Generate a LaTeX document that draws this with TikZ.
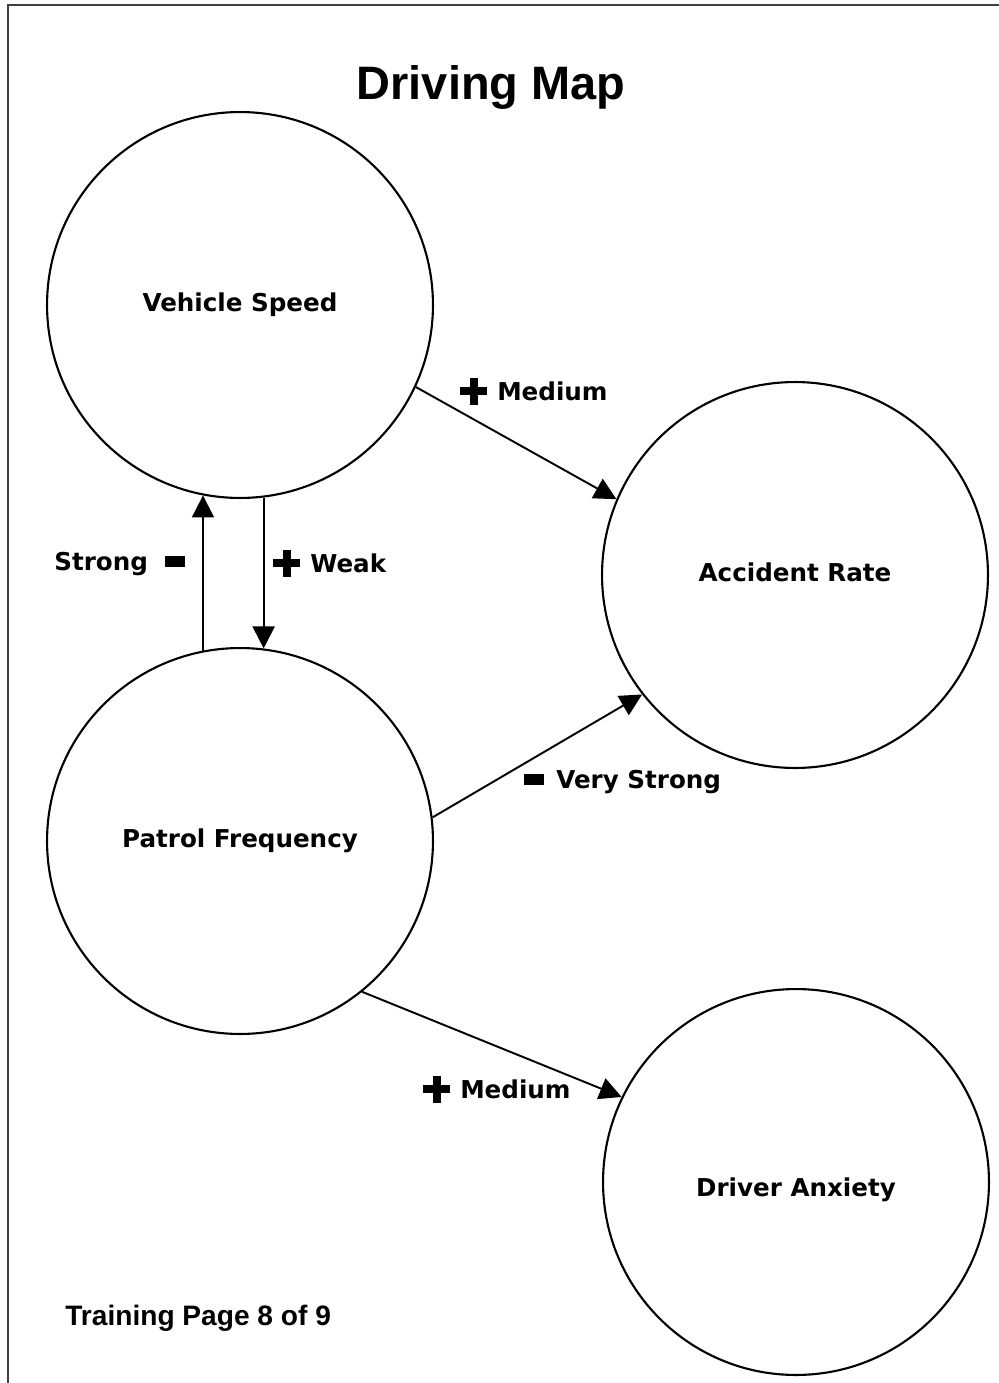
\documentclass[tikz,border=0pt]{standalone}
\usepackage{fontspec}
\setmainfont{DejaVu Sans}
\newfontfamily\arialfont{Liberation Sans}
\usetikzlibrary{arrows.meta}
% 正负号
\newcommand{\pls}{\rlap{\rule[0.21em]{1.1em}{0.3em}}\hspace{0.4em}\rule[-0.19em]{0.3em}{1.1em}\hspace{0.8em}}
\newcommand{\mns}{\rule[0.12em]{0.8em}{0.46em}}
% 文字上下微调
\newcommand{\nudge}[2]{\raisebox{#1}[\height][\depth]{#2}}

\begin{document}
\begin{tikzpicture}[x=0.02cm, y=-0.02cm, >={Triangle[length=0.44cm,width=0.44cm]},
    concept/.style={circle, draw, line width=1.2pt, minimum size=7.72cm, inner sep=0pt,
        font=\bfseries\fontsize{14}{16}\selectfont},
    lbl/.style={anchor=base west, inner sep=0pt, font=\bfseries\fontsize{14}{16}\selectfont},
    link/.style={->, line width=1.1pt}]
    \useasboundingbox (0,0) rectangle (999,1383);
    % 边框
    \draw[line width=1.2pt, black!75] (8,1383) -- (8,5) -- (999,5);
    % 标题
    \node[anchor=base, font=\arialfont\bfseries\fontsize{26.7}{30}\selectfont] (title) at (491,99) {Driving Map};

    % 定义节点
    \node[concept] (vs) at (240,305) {Vehicle Speed};
    \node[concept] (ar) at (795,575) {\nudge{0.05cm}{Accident Rate}};
    \node[concept] (pf) at (240,841) {Patrol Frequency};
    \node[concept] (da) at (796,1182) {\nudge{-0.16cm}{Driver Anxiety}};

    % 绘制箭头
    \draw[link] (vs.-25) -- (ar.157);
    \draw[link] (vs.-83.5) -- (pf.83.5);
    \draw[link] (pf.101.4) -- (vs.-101.4);
    \draw[link] (pf.7) -- (ar.218);
    \draw[link] (pf.-51) -- (da.154);

    % 标注强度
    \node[lbl] (l1) at (460,400) {\pls Medium};
    \node[lbl] (l2) at (54,570) {Strong\hspace{0.7em}\mns};
    \node[lbl] (l3) at (273,572) {\pls Weak};
    \node[lbl] (l4) at (524,788) {\mns\hspace{0.5em}Very Strong};
    \node[lbl] (l5) at (423,1098) {\pls Medium};

    % 页脚
    \node[anchor=base west, inner sep=0pt, font=\arialfont\bfseries\fontsize{16}{18}\selectfont] (foot) at (65,1325) {Training Page 8 of 9};
\end{tikzpicture}
\end{document}
